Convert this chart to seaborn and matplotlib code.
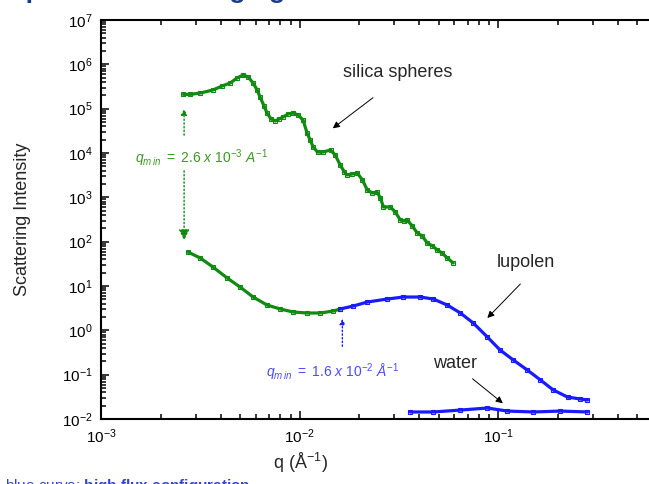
import numpy as np
import pandas as pd
import seaborn as sns
import matplotlib.pyplot as plt
from matplotlib.ticker import LogLocator, NullFormatter

# silica spheres (green curve, upper)
q_silica = [2.6e-3, 2.81e-3, 3.16e-3, 3.66e-3, 4.07e-3, 4.47e-3, 4.84e-3, 5.19e-3, 5.51e-3, 5.83e-3,
            6.11e-3, 6.32e-3, 6.62e-3, 6.85e-3, 7.18e-3, 7.53e-3, 7.89e-3, 8.26e-3, 8.75e-3, 9.27e-3,
            9.82e-3, 1.04e-2, 1.09e-2, 1.13e-2, 1.17e-2, 1.23e-2, 1.31e-2, 1.43e-2, 1.51e-2, 1.60e-2,
            1.68e-2, 1.73e-2, 1.84e-2, 1.95e-2, 2.07e-2, 2.19e-2, 2.32e-2, 2.45e-2, 2.55e-2, 2.64e-2,
            2.86e-2, 3.03e-2, 3.21e-2, 3.36e-2, 3.48e-2, 3.69e-2, 3.91e-2, 4.14e-2, 4.39e-2, 4.66e-2,
            4.93e-2, 5.22e-2, 5.53e-2, 5.93e-2]
i_silica = [2.1e5, 2.1e5, 2.25e5, 2.64e5, 3.24e5, 3.79e5, 4.92e5, 5.74e5, 5.18e5, 3.79e5,
            2.64e5, 1.83e5, 1.15e5, 7.98e4, 5.85e4, 5.27e4, 5.85e4, 6.49e4, 7.59e4, 7.98e4,
            7.19e4, 5.55e4, 2.82e4, 1.96e4, 1.36e4, 1.05e4, 1.05e4, 1.17e4, 9.0e3, 5.36e3,
            3.72e3, 3.19e3, 3.36e3, 3.54e3, 2.46e3, 1.46e3, 1.25e3, 1.32e3, 966, 605,
            605, 467, 308, 292, 308, 225, 157, 134, 93, 80,
            65, 55, 43, 33]

# lupolen, low q part (green)
q_lup_low = [2.74e-3, 3.16e-3, 3.66e-3, 4.32e-3, 5.01e-3, 5.83e-3, 6.85e-3, 7.98e-3, 9.27e-3,
             1.09e-2, 1.27e-2, 1.48e-2, 1.60e-2]
i_lup_low = [58.4, 42.8, 26.8, 15.1, 9.49, 5.64, 3.72, 3.03, 2.59,
             2.46, 2.46, 2.73, 3.03]

# lupolen, high flux part (blue)
q_lup_high = [1.60e-2, 1.86e-2, 2.19e-2, 2.76e-2, 3.32e-2, 4.05e-2, 4.71e-2, 5.53e-2, 6.44e-2,
              7.48e-2, 8.81e-2, 0.102, 0.119, 0.140, 0.163, 0.189, 0.223, 0.259, 0.281]
i_lup_high = [3.03, 3.53, 4.35, 5.08, 5.64, 5.64, 5.08, 3.72, 2.46,
              1.46, 0.706, 0.360, 0.214, 0.127, 0.0757, 0.0451, 0.0313, 0.0282, 0.0268]

# water (blue)
q_water = [3.61e-2, 4.71e-2, 6.44e-2, 8.81e-2, 0.111, 0.150, 0.205, 0.281]
i_water = [0.0144, 0.0144, 0.0159, 0.0177, 0.0151, 0.0144, 0.0151, 0.0144]

green = "#108a10"
blue = "#1a1aff"

sns.set_style("ticks")
plt.rcParams['font.family'] = ['Liberation Sans', 'DejaVu Sans']
plt.rcParams['mathtext.fontset'] = 'custom'
plt.rcParams['mathtext.rm'] = 'Liberation Sans'
plt.rcParams['mathtext.it'] = 'Liberation Sans:italic'
plt.rcParams['mathtext.bf'] = 'Liberation Sans:bold'

fig = plt.figure(figsize=(6.49, 4.84), dpi=100)
ax = fig.add_axes([101/649, 65/484, 596/649, 399/484])
ax.set(xscale='log', yscale='log')

series = [(q_silica, i_silica, green), (q_lup_low, i_lup_low, green),
          (q_lup_high, i_lup_high, blue), (q_water, i_water, blue)]
for q, inten, col in series:
    df = pd.DataFrame({'q': q, 'I': inten})
    sns.lineplot(data=df, x='q', y='I', ax=ax, color=col, lw=2.3, estimator=None, sort=False,
                 marker='s', markersize=2.5, markerfacecolor='none', markeredgecolor=col,
                 markeredgewidth=0.8)

ax.set_xlim(1e-3, 1)
ax.set_ylim(1e-2, 1e7)
for axis in (ax.xaxis, ax.yaxis):
    axis.set_major_locator(LogLocator(base=10, numticks=20))
    axis.set_minor_locator(LogLocator(base=10, subs=np.arange(2, 10), numticks=200))
    axis.set_minor_formatter(NullFormatter())
ax.set_xticks([1e-3, 1e-2, 1e-1, 1])
ax.set_xticklabels([r"$10^{-3}$", r"$10^{-2}$", r"$10^{-1}$", ""])
ax.tick_params(which='both', direction='in', top=True, right=True, width=1.1, labelsize=11,
               colors='black')
ax.tick_params(which='major', length=6, pad=6)
ax.tick_params(which='minor', length=3.5)
for s in ax.spines.values():
    s.set_linewidth(1.5)
    s.set_color('black')

ax.set_ylabel("Scattering Intensity", fontsize=13)
ax.yaxis.set_label_coords(-0.118, 0.5)
ax.set_xlabel(r"q (Å$^{-1}$)", fontsize=13)
ax.xaxis.set_label_coords(0.334, -0.08)

# labels with arrows
arrow_k = dict(arrowstyle='-|>', color='black', lw=0.7, mutation_scale=10)
ax.text(3.13e-2, 6.7e5, "silica spheres", fontsize=13, ha='center', va='center')
ax.annotate("", xy=(1.43e-2, 3.3e4), xytext=(2.4e-2, 1.93e5), arrowprops=arrow_k)
ax.text(0.138, 34.7, "lupolen", fontsize=13, ha='center', va='center')
ax.annotate("", xy=(8.61e-2, 1.71), xytext=(0.132, 12.3), arrowprops=arrow_k)
ax.text(6.07e-2, 0.183, "water", fontsize=13, ha='center', va='center')
ax.annotate("", xy=(0.108, 0.0207), xytext=(7.23e-2, 0.0885), arrowprops=arrow_k)

# q_min markers
tgreen = "#3c9a24"
tblue = "#4a4aff"
ax.annotate("", xy=(2.62e-3, 1.15e5), xytext=(2.62e-3, 2.18e4),
            arrowprops=dict(arrowstyle='-|>', color=green, lw=1, ls=':', mutation_scale=9))
ax.annotate("", xy=(2.62e-3, 93), xytext=(2.62e-3, 4.58e3),
            arrowprops=dict(arrowstyle='-|>', color=green, lw=1, ls=':', mutation_scale=16))
ax.text(3.19e-3, 7.7e3, r"$\mathit{q_{m\,in}\ =\ 2.6\ x\ 10^{-3}\ A^{-1}}$",
        color=tgreen, fontsize=10, ha='center', va='center')
ax.annotate("", xy=(1.64e-2, 2.1), xytext=(1.64e-2, 0.378),
            arrowprops=dict(arrowstyle='-|>', color=blue, lw=1, ls=':', mutation_scale=8))
ax.text(1.46e-2, 0.115, r"$\mathit{q_{m\,in}\ =\ 1.6\ x\ 10^{-2}\ Å^{-1}}$",
        color=tblue, fontsize=10, ha='center', va='center')

# slide text cut by the crop
fig.text(0.012, 1.004, "Spectral data merging", color="#1f3c88", fontsize=19,
         fontweight='bold', va='baseline', ha='left')
fig.text(0.008, -0.013, r"blue curve: $\mathbf{high\ flux\ configuration}$", color="#3344cc",
         fontsize=11, va='baseline', ha='left')

fig.savefig("out.png", dpi=100)
